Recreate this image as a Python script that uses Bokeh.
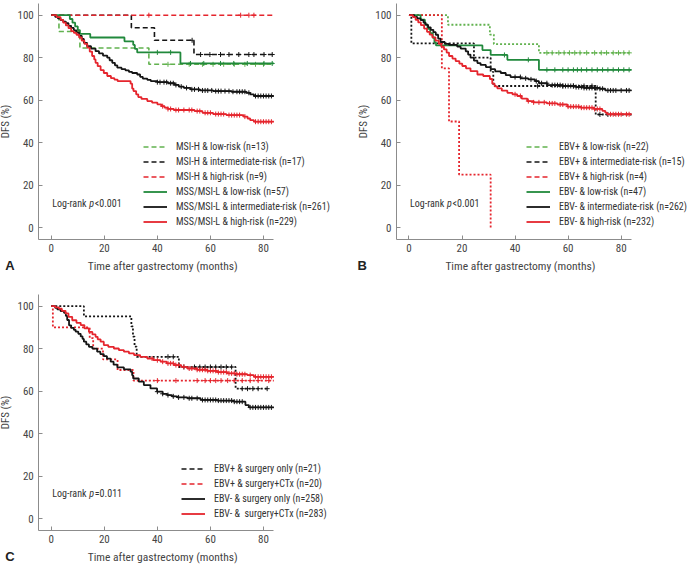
import math
from bokeh.plotting import figure
from bokeh.models import Range1d, Legend, LegendItem, Label, FixedTicker
from bokeh.layouts import column, row
from bokeh.embed import file_html
from bokeh.resources import INLINE

FONT = "Liberation Sans Narrow, Arial Narrow, Roboto Condensed, Roboto, sans-serif"
RED = "#e5252d"
BLACK = "#151515"
GREEN = "#21893c"
LGREEN = "#62b24f"

X_TICKS = [0, 20, 40, 60, 80]
Y_TICKS = [0, 20, 40, 60, 80, 100]
X_TITLE = "Time after gastrectomy (months)"
Y_TITLE = "DFS (%)"

# ---------------- Panel A ----------------
A_labels = ["MSI-H & low-risk (n=13)", "MSI-H & intermediate-risk (n=17)", "MSI-H & high-risk (n=9)",
            "MSS/MSI-L & low-risk (n=57)", "MSS/MSI-L & intermediate-risk (n=261)", "MSS/MSI-L & high-risk (n=229)"]

A_hl_t = [2.9, 10.8, 36.8]
A_hl_s = [92.3, 84.6, 76.9]
A_hl_c = [44, 52, 57, 61, 65, 69, 73, 77, 80]

A_hi_t = [30.2, 38.9, 53.8]
A_hi_s = [94.1, 88.2, 81.5]
A_hi_c = [53.1, 56.3, 59.8, 63.8, 67, 70.7, 74.5, 76.4, 80.2, 83.3]

A_hh_t = []
A_hh_s = []
A_hh_c = [36.8, 71.4, 74.5, 76.4]

A_ll_t = [7.0, 8.0, 9.0, 10.0, 10.8, 14.7, 27.6, 30.9, 31.5, 32.4, 48.7]
A_ll_s = [98.2, 96.5, 94.7, 93.0, 91.2, 89.5, 87.7, 86.0, 84.2, 82.5, 77.3]
A_ll_c = [40, 45, 52.5, 57.5, 63.8, 68.8, 73.9, 80.2, 83.3]

A_li_t = [1.5, 2.5, 3.5, 4.5, 5.5, 6.5, 7.5, 8.5, 9.5, 10.5, 11.5, 12.3, 13.5, 15.0, 16.7, 18.0, 19.5,
          21.1, 22.0, 23.0, 24.0, 24.9, 26.5, 28.0, 29.3, 30.5, 32.4, 33.5, 34.5, 36.2, 37.5, 40.0, 44.0,
          46.5, 48.1, 50.0, 52.5, 56.0, 61.0, 68.0, 73.5, 75.0, 76.4]
A_li_s = [99.2, 98.5, 97.7, 97.0, 96.2, 95.0, 94.0, 92.9, 91.8, 90.3, 88.8, 87.0, 85.4, 84.3, 83.1, 82.0, 81.0,
          80.0, 78.8, 77.6, 76.4, 75.3, 74.6, 74.0, 73.3, 72.8, 72.1, 71.0, 70.2, 69.6, 69.0, 68.5, 68.0,
          67.2, 66.4, 65.8, 65.1, 64.6, 64.3, 64.0, 63.5, 62.8, 62.0]
A_li_c = [40, 41, 42.5, 43.5, 45, 46, 47, 49, 51, 53, 54, 55.5, 57, 58, 59, 60.5, 62, 63, 64, 65.5, 67,
          68.5, 70, 71, 72, 73, 74.5, 77, 78, 79, 80, 81, 82, 83]

A_lh_t = [2.0, 3.5, 4.5, 5.5, 6.5, 7.5, 8.5, 9.5, 10.5, 11.5, 12.5, 13.6, 14.5, 15.4, 16.2, 16.7, 17.5,
          18.6, 19.8, 21.1, 22.5, 23.8, 25.0, 29.9, 30.5, 31.0, 32.0, 32.8, 34.0, 36.2, 38.0, 40.0, 41.5,
          42.7, 44.0, 46.2, 54.0, 57.0, 61.0, 66.0, 72.5, 74.0, 75.0, 76.4]
A_lh_s = [99.1, 97.8, 96.5, 95.2, 93.9, 92.5, 91.7, 90.8, 89.5, 88.0, 86.5, 84.7, 82.9, 80.8, 79.2, 77.6, 76.0,
          74.2, 72.8, 71.4, 70.4, 69.7, 69.0, 67.8, 65.5, 64.3, 62.8, 61.5, 60.6, 59.6, 58.9, 58.1, 57.2,
          56.5, 55.9, 55.4, 54.9, 54.1, 53.5, 53.0, 52.3, 51.4, 50.6, 49.9]
A_lh_c = [42, 44, 45, 47, 48, 50, 52, 53, 55, 56, 58, 59, 60, 62, 63, 64, 65, 67, 68, 69, 70, 71, 73,
          77, 78, 79, 80, 81, 82, 83]

# ---------------- Panel B ----------------
B_labels = ["EBV+ & low-risk (n=22)", "EBV+ & intermediate-risk (n=15)", "EBV+ & high-risk (n=4)",
            "EBV- & low-risk (n=47)", "EBV- & intermediate-risk (n=262)", "EBV- & high-risk (n=232)"]

B_el_t = [14.7, 30.5, 32.0, 49.0]
B_el_s = [95.5, 90.9, 86.4, 82.3]
B_el_c = [52, 54, 56.5, 58.5, 60.5, 62.5, 64.5, 67, 70, 72.5, 74.5, 77, 79, 81, 83]

B_ei_t = [0.9, 24.5, 30.8, 31.8, 70.4]
B_ei_s = [86.7, 80.0, 73.3, 66.7, 53.3]
B_ei_c = [48.5, 58, 62, 66, 69, 72, 75]

B_eh_t = [12.4, 15.1, 18.9, 30.8]
B_eh_s = [75.0, 50.0, 25.0, 0.0]
B_eh_c = []

B_nl_t = [4.4, 6.0, 7.0, 8.0, 9.0, 9.6, 10.2, 27.7, 30.8, 37.1, 49.0]
B_nl_s = [97.9, 95.7, 93.6, 91.5, 89.4, 87.2, 85.8, 83.6, 81.3, 79.0, 74.3]
B_nl_c = [36, 45, 52, 55, 58, 60, 62, 63.5, 65, 67, 69, 71, 73, 75, 77, 79, 81, 83]

B_ni_t = [2.0, 3.1, 4.4, 5.5, 6.3, 7.2, 8.2, 9.2, 10.1, 11.0, 11.9, 13.5, 15.1, 18.2, 19.5, 21.4, 22.3,
          23.2, 24.5, 25.8, 27.0, 29.0, 30.8, 32.5, 34.6, 36.5, 38.3, 42.1, 45.0, 47.5, 49.0, 52.1, 58.0,
          63.0, 66.0, 72.0, 74.0]
B_ni_s = [99.2, 98.5, 97.7, 96.5, 95.4, 94.3, 93.1, 92.0, 90.8, 89.0, 87.4, 86.5, 86.0, 85.2, 84.3, 83.0, 81.5,
          80.0, 78.6, 77.5, 76.6, 75.6, 74.6, 73.6, 72.8, 71.8, 70.9, 70.3, 69.8, 69.0, 68.0, 67.1, 66.7,
          66.2, 65.8, 65.4, 64.6]
B_ni_c = [40, 42, 44, 46, 48, 50, 52, 54, 55, 56, 57, 58, 59, 60, 61, 62, 63, 64, 65, 66, 67, 68, 69,
          70, 71, 72, 73, 75, 76, 77, 78, 80, 82, 83]

B_nh_t = [1.5, 2.5, 3.5, 4.5, 5.7, 6.8, 7.8, 8.8, 10.0, 11.3, 12.2, 13.2, 14.2, 15.1, 16.4, 17.6, 19.0,
          20.1, 21.5, 23.2, 25.8, 28.0, 30.5, 31.4, 32.3, 33.3, 35.0, 37.1, 39.0, 40.8, 42.5, 44.6, 47.0,
          52.0, 56.0, 59.7, 64.7, 69.7, 72.9, 74.0, 74.7]
B_nh_s = [99.1, 97.8, 96.6, 95.3, 93.7, 92.2, 90.9, 89.6, 88.0, 86.5, 85.2, 83.9, 82.4, 80.8, 79.6, 78.4, 77.2,
          76.1, 75.0, 73.7, 72.1, 71.4, 70.0, 67.8, 66.5, 65.6, 64.5, 63.5, 62.8, 62.0, 60.8, 59.6, 59.0,
          58.5, 58.0, 57.0, 56.5, 55.9, 55.0, 54.2, 53.4]
B_nh_c = [40, 42, 45, 47, 49, 51, 53, 54, 55, 57, 58, 60, 61, 62, 63, 64, 65, 66, 67, 68, 69, 70, 71,
          72, 76, 77, 78, 79, 80, 82, 83]

# ---------------- Panel C ----------------
C_labels = ["EBV+ & surgery only (n=21)", "EBV+ & surgery+CTx (n=20)",
            "EBV- & surgery only (n=258)", "EBV- &  surgery+CTx (n=283)"]

C_es_t = [12.3, 30.2, 30.8, 31.4, 32.2, 48.1, 69.5]
C_es_s = [95.2, 90.5, 85.7, 81.0, 76.2, 71.4, 61.2]
C_es_c = [44, 46, 50, 54, 56, 58, 60, 62, 64, 66, 68, 72, 74, 76, 78, 81.4]

C_ec_t = [0.6, 14.5, 15.8, 19.5, 25.0, 31.0]
C_ec_s = [90.0, 85.0, 80.0, 75.0, 70.0, 65.0]
C_ec_c = [40, 47, 55, 58, 60, 62, 64, 66.5, 69, 72, 75, 78, 82]

C_ns_t = [1.5, 2.3, 3.5, 4.8, 5.5, 6.0, 6.7, 7.5, 8.5, 9.2, 10.2, 11.1, 11.8, 12.3, 13.2, 14.2, 15.5,
          17.3, 18.5, 19.8, 21.0, 22.4, 23.5, 24.9, 27.4, 29.9, 30.5, 30.9, 33.0, 34.9, 37.4, 39.9, 42.0,
          43.7, 45.5, 47.5, 51.3, 56.3, 62.6, 68.8, 73.2, 74.5]
C_ns_s = [99.2, 98.5, 97.7, 96.9, 95.4, 93.5, 91.0, 89.8, 88.9, 88.0, 87.0, 85.8, 84.6, 83.3, 82.0, 80.9, 80.0,
          78.6, 77.5, 76.5, 75.3, 73.9, 72.5, 71.2, 70.3, 69.2, 67.5, 66.0, 64.5, 62.9, 61.3, 59.8, 58.8,
          58.2, 57.6, 57.1, 56.7, 55.9, 55.6, 55.1, 53.5, 52.4]
C_ns_c = [40, 42, 44, 46, 48, 50, 52, 53, 55, 57, 58, 59, 60, 61, 62, 63, 64, 65, 66, 67, 68, 69, 70,
          71, 72, 75, 76, 77, 78, 79, 80, 81, 82, 83]

C_nc_t = [1.5, 2.9, 4.0, 5.4, 6.5, 7.9, 9.5, 11.1, 12.5, 14.2, 15.5, 16.7, 17.5, 18.6, 19.8, 21.5, 23.6,
          25.5, 27.4, 29.3, 31.2, 33.5, 36.2, 38.5, 41.2, 43.5, 46.2, 49.0, 51.3, 55.0, 58.8, 62.5, 66.3,
          70.0, 73.9, 76.4]
C_nc_s = [99.4, 98.8, 97.8, 96.6, 95.0, 93.4, 92.2, 91.1, 89.6, 87.9, 86.7, 85.6, 84.4, 83.3, 81.7, 80.9, 80.1,
          79.3, 78.6, 77.8, 77.0, 76.2, 75.4, 74.6, 73.9, 73.1, 72.3, 71.5, 70.7, 70.1, 69.6, 69.0, 68.4,
          68.0, 67.6, 66.8]
C_nc_c = [38, 40, 42, 44, 45, 46, 47, 48, 50, 52, 53, 55, 56, 57, 58, 59, 60, 61, 62, 63, 64, 65, 66,
          67, 68, 69, 70, 71, 72, 73, 75, 77, 78, 79, 80, 81, 82, 83]

END = 83.9

# axis box (data units) and pixel scale
XMIN, XMAX = -4.7, 83.9
YMIN, YMAX = -5.5, 105.5
KX = 235 / (XMAX - XMIN)
KY = 236 / (YMAX - YMIN)


def surv_at(t, s, c):
    v = 100.0
    for ti, si in zip(t, s):
        if ti <= c:
            v = si
    return v


def make_fig(width, height, x0, y0):
    xs = XMIN - x0 / KX
    ye = YMAX + y0 / KY
    p = figure(width=width, height=height,
               x_range=Range1d(xs, xs + width / KX), y_range=Range1d(ye - height / KY, ye),
               output_backend="svg", toolbar_location=None,
               min_border_left=0, min_border_top=0, min_border_right=0, min_border_bottom=0)
    p.outline_line_color = None
    p.grid.visible = False
    p.background_fill_color = "white"
    p.border_fill_color = "white"
    p.xaxis.fixed_location = YMIN
    p.yaxis.fixed_location = XMIN
    p.xaxis.bounds = (XMIN, XMAX)
    p.yaxis.bounds = (YMIN, YMAX)
    for ax in (p.xaxis[0], p.yaxis[0]):
        ax.axis_line_color = "#8c8c8c"
        ax.axis_line_width = 1
        ax.major_tick_line_color = "#8c8c8c"
        ax.major_tick_in = 4
        ax.major_tick_out = 0
        ax.minor_tick_line_color = None
        ax.major_label_text_font = FONT
        ax.major_label_text_font_size = "11px"
        ax.major_label_text_color = "#444444"
        ax.major_label_standoff = 5
    p.xaxis.ticker = FixedTicker(ticks=X_TICKS)
    p.yaxis.ticker = FixedTicker(ticks=Y_TICKS)
    p.xaxis.major_label_standoff = 4
    # axis titles
    p.add_layout(Label(x=42, y=YMAX - 262 / KY, text=X_TITLE,
                       text_font=FONT, text_font_size="11.5px", text_color="#444444",
                       text_align="center", text_baseline="middle"))
    p.add_layout(Label(x=XMIN - 33 / KX, y=50, text=Y_TITLE, angle=math.pi / 2,
                       text_font=FONT, text_font_size="11px", text_color="#444444",
                       text_align="center", text_baseline="middle"))
    return p


def curve(p, t, s, cens, color, dash="solid", width=1.8, end=END):
    xs = [0.0] + list(t) + [end]
    ys = [100.0] + list(s) + [s[-1] if s else 100.0]
    r = p.step(xs, ys, mode="after", line_color=color, line_width=width, line_dash=dash)
    if cens:
        cy = [surv_at(t, s, c) for c in cens]
        p.scatter(cens, cy, marker="cross", size=5, line_color=color, line_width=1)
    return r


def legend_only(p, t, s, color, dash, end=END):
    xs = [0.0] + list(t) + [end]
    ys = [100.0] + list(s) + [s[-1] if s else 100.0]
    r = p.step(xs, ys, mode="after", line_color=color, line_width=1.6, line_dash=dash)
    r.visible = False
    return r


def add_legend(p, labels, renderers, x, y):
    items = [LegendItem(label=l, renderers=[r]) for l, r in zip(labels, renderers)]
    lg = Legend(items=items, location=(x, y), orientation="vertical",
                background_fill_alpha=0, border_line_alpha=0, padding=0, margin=0, spacing=2,
                glyph_width=24, glyph_height=13, label_height=13, label_standoff=9,
                label_text_font=FONT, label_text_font_size="10px", label_text_color="#333333")
    p.add_layout(lg)


def logrank(p, y, sym):
    kw = dict(y=y, x=0.4, text_font=FONT, text_font_size="10px", text_color="#333333",
              text_baseline="middle", text_align="left")
    p.add_layout(Label(text="Log-rank", x_offset=0, **kw))
    p.add_layout(Label(text="p", x_offset=37, text_font_style="italic", **kw))
    p.add_layout(Label(text=sym, x_offset=42.5, **kw))


def letter(p, t, dx):
    p.add_layout(Label(x=XMIN - dx / KX, y=YMAX - 262 / KY, text=t,
                       text_font="Liberation Sans, Arial, sans-serif", text_font_size="13px",
                       text_font_style="bold", text_color="#222222", text_baseline="middle"))


DASH = "5 3"
DOT = "2 2"

# Panel A
pA = make_fig(355, 291, 38.3, 3)
rA = [curve(pA, A_hl_t, A_hl_s, A_hl_c, LGREEN, DASH, 1.6),
      curve(pA, A_hi_t, A_hi_s, A_hi_c, BLACK, DASH, 1.6),
      curve(pA, A_hh_t, A_hh_s, A_hh_c, RED, DASH, 1.6),
      curve(pA, A_ll_t, A_ll_s, A_ll_c, GREEN),
      curve(pA, A_li_t, A_li_s, A_li_c, BLACK),
      curve(pA, A_lh_t, A_lh_s, A_lh_c, RED)]
add_legend(pA, A_labels, rA, 143, 63)
logrank(pA, 11.4, "<0.001")
letter(pA, "A", 33.5)

# Panel B
pB = make_fig(332, 291, 41, 3)
curve(pB, B_el_t, B_el_s, B_el_c, LGREEN, DOT, 1.8)
curve(pB, B_ei_t, B_ei_s, B_ei_c, BLACK, DOT, 1.8)
curve(pB, B_eh_t, B_eh_s, B_eh_c, RED, DOT, 1.8, end=B_eh_t[-1])
rB = [legend_only(pB, B_el_t, B_el_s, LGREEN, DASH),
      legend_only(pB, B_ei_t, B_ei_s, BLACK, DASH),
      legend_only(pB, B_eh_t, B_eh_s, RED, DASH, end=B_eh_t[-1]),
      curve(pB, B_nl_t, B_nl_s, B_nl_c, GREEN),
      curve(pB, B_ni_t, B_ni_s, B_ni_c, BLACK),
      curve(pB, B_nh_t, B_nh_s, B_nh_c, RED)]
add_legend(pB, B_labels, rB, 171, 63)
logrank(pB, 11.4, "<0.001")
letter(pB, "B", 39)

# Panel C
pC = make_fig(355, 274, 38.3, 3)
curve(pC, C_es_t, C_es_s, C_es_c, BLACK, DOT, 1.8, end=81.4)
curve(pC, C_ec_t, C_ec_s, C_ec_c, RED, DOT, 1.8)
rC = [legend_only(pC, C_es_t, C_es_s, BLACK, DASH, end=81.4),
      legend_only(pC, C_ec_t, C_ec_s, RED, DASH),
      curve(pC, C_ns_t, C_ns_s, C_ns_c, BLACK),
      curve(pC, C_nc_t, C_nc_s, C_nc_c, RED)]
add_legend(pC, C_labels, rC, 181, 45)
logrank(pC, 12.0, "=0.011")
letter(pC, "C", 33.5)

layout = column(row(pA, pB, spacing=0), pC, spacing=0)

open("out.html", "w").write(file_html(layout, INLINE))
